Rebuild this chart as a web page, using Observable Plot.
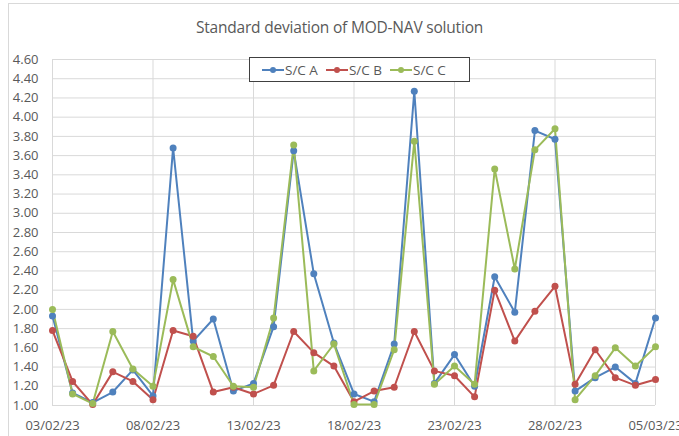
<!DOCTYPE html>
<html>
<head>
<meta charset="utf-8">
<script src="https://cdn.jsdelivr.net/npm/d3@7"></script>
<script src="https://cdn.jsdelivr.net/npm/@observablehq/plot@0.6"></script>
<style>
  html, body { margin: 0; padding: 0; background: #fff; }
  #wrap { position: relative; width: 679px; height: 436px; overflow: hidden; font-family: "Open Sans", "Noto Sans", sans-serif; }
  #frame { position: absolute; left: 8px; top: 3px; width: 700px; height: 440px; border: 1px solid #d9d9d9; box-sizing: border-box; }
  #title { position: absolute; left: 0; top: 0; width: 679px; height: 46px; line-height: 54px; text-align: center; font-size: 15.5px; color: #595959; letter-spacing: -0.2px; }
  #chart { position: absolute; left: 0; top: 46px; }
  #legend { position: absolute; left: 249px; top: 57px; width: 221px; height: 25px; box-sizing: border-box; border: 1px solid #404040; background: #fff; display: flex; align-items: center; padding-left: 12px; font-size: 13.5px; color: #595959; }
  .item { display: flex; align-items: center; margin-right: 8px; }
  .item svg { margin-right: 1px; }
</style>
</head>
<body>
<div id="wrap">
  <div id="frame"></div>
  <div id="title">Standard deviation of MOD-NAV solution</div>
  <div id="chart"></div>
  <div id="legend"></div>
</div>
<script>
const dates = ["2023-02-03","2023-02-04","2023-02-05","2023-02-06","2023-02-07","2023-02-08","2023-02-09","2023-02-10","2023-02-11","2023-02-12","2023-02-13","2023-02-14","2023-02-15","2023-02-16","2023-02-17","2023-02-18","2023-02-19","2023-02-20","2023-02-21","2023-02-22","2023-02-23","2023-02-24","2023-02-25","2023-02-26","2023-02-27","2023-02-28","2023-03-01","2023-03-02","2023-03-03","2023-03-04","2023-03-05"];
const scA = [1.93,1.13,1.03,1.14,1.37,1.10,3.68,1.67,1.90,1.15,1.23,1.82,3.65,2.37,1.65,1.12,1.04,1.64,4.27,1.23,1.53,1.20,2.34,1.97,3.86,3.77,1.15,1.29,1.40,1.23,1.91];
const scB = [1.78,1.25,1.01,1.35,1.25,1.06,1.78,1.72,1.14,1.19,1.12,1.21,1.77,1.55,1.41,1.04,1.15,1.19,1.77,1.36,1.31,1.09,2.20,1.67,1.98,2.24,1.22,1.58,1.29,1.21,1.27];
const scC = [2.00,1.12,1.02,1.77,1.38,1.20,2.31,1.61,1.51,1.20,1.19,1.91,3.71,1.36,1.64,1.01,1.01,1.58,3.75,1.22,1.41,1.22,3.46,2.42,3.66,3.88,1.06,1.31,1.60,1.41,1.61];
const seriesNames = ["S/C A","S/C B","S/C C"];
const seriesColors = ["#4F81BD","#C0504D","#9BBB59"];
const xTickLabels = ["2023-02-03","2023-02-08","2023-02-13","2023-02-18","2023-02-23","2023-02-28","2023-03-05"];
const yTicks = [1.0,1.2,1.4,1.6,1.8,2.0,2.2,2.4,2.6,2.8,3.0,3.2,3.4,3.6,3.8,4.0,4.2,4.4,4.6];

const parse = d3.utcParse("%Y-%m-%d");
const allValues = [scA, scB, scC];
const data = [];
seriesNames.forEach((name, i) => {
  dates.forEach((d, j) => data.push({series: name, date: parse(d), value: allValues[i][j]}));
});
const xTicks = xTickLabels.map(parse);

const chart = Plot.plot({
  width: 679,
  height: 390,
  marginTop: 13,
  marginBottom: 31,
  marginLeft: 52,
  marginRight: 24,
  style: { fontFamily: "'Open Sans', 'Noto Sans', sans-serif", fontSize: "13px", color: "#595959", background: "transparent" },
  x: { type: "utc", domain: [xTicks[0], xTicks[xTicks.length - 1]], ticks: xTicks, tickFormat: d3.utcFormat("%d/%m/%y"), tickSize: 0, tickPadding: 15, label: null },
  y: { domain: [1, 4.6], ticks: yTicks, tickFormat: d => d.toFixed(2), tickSize: 0, tickPadding: 14, label: null },
  color: { domain: seriesNames, range: seriesColors },
  marks: [
    Plot.gridY(yTicks, { stroke: "#d9d9d9", strokeOpacity: 1, strokeWidth: 1 }),
    Plot.gridX(xTicks, { stroke: "#d9d9d9", strokeOpacity: 1, strokeWidth: 1 }),
    Plot.axisX({ ticks: xTicks, tickFormat: d3.utcFormat("%d/%m/%y"), tickSize: 0, tickPadding: 15, label: null, fill: "#595959" }),
    Plot.axisY({ ticks: yTicks, tickFormat: d => d.toFixed(2), tickSize: 0, tickPadding: 14, label: null, fill: "#595959" }),
    Plot.line(data, { x: "date", y: "value", z: "series", stroke: "series", strokeWidth: 2, curve: "linear" }),
    Plot.dot(data, { x: "date", y: "value", fill: "series", r: 3.5 })
  ]
});
document.getElementById("chart").appendChild(chart);

const legend = document.getElementById("legend");
seriesNames.forEach((name, i) => {
  const item = document.createElement("div");
  item.className = "item";
  item.innerHTML = `<svg width="22" height="10"><line x1="0" y1="5" x2="22" y2="5" stroke="${seriesColors[i]}" stroke-width="2"/><circle cx="11" cy="5" r="3" fill="${seriesColors[i]}"/></svg><span>${name}</span>`;
  legend.appendChild(item);
});
</script>
</body>
</html>
